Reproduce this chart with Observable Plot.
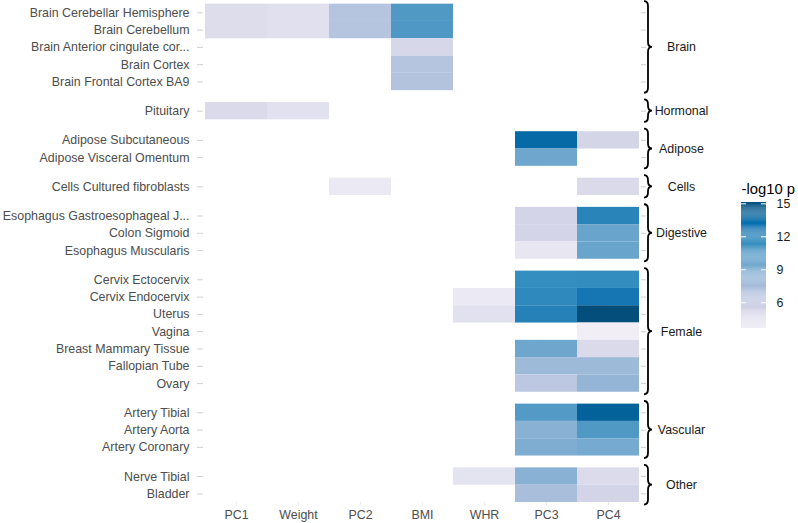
<!DOCTYPE html>
<html>
<head>
<meta charset="utf-8">
<script src="https://cdn.jsdelivr.net/npm/d3@7"></script>
<script src="https://cdn.jsdelivr.net/npm/@observablehq/plot@0.6"></script>
<style>
  html, body { margin: 0; padding: 0; background: #fff; }
  #chart { position: relative; width: 798px; height: 523px; overflow: hidden; }
  #legend { position: absolute; left: 700px; top: 170px; }
  svg { font-family: "Liberation Sans", Arial, sans-serif; }
</style>
</head>
<body>
<div id="chart"><div id="main"></div><div id="legend"></div></div>
<script>
// ---- data ----
const traits = ["PC1", "Weight", "PC2", "BMI", "WHR", "PC3", "PC4"];
const groups = ["Brain", "Hormonal", "Adipose", "Cells", "Digestive", "Female", "Vascular", "Other"];
const groupSizes = [5, 1, 2, 1, 3, 7, 3, 2];
const tissues = [
  "Brain Cerebellar Hemisphere", "Brain Cerebellum", "Brain Anterior cingulate cor...", "Brain Cortex", "Brain Frontal Cortex BA9",
  "Pituitary",
  "Adipose Subcutaneous", "Adipose Visceral Omentum",
  "Cells Cultured fibroblasts",
  "Esophagus Gastroesophageal J...", "Colon Sigmoid", "Esophagus Muscularis",
  "Cervix Ectocervix", "Cervix Endocervix", "Uterus", "Vagina", "Breast Mammary Tissue", "Fallopian Tube", "Ovary",
  "Artery Tibial", "Artery Aorta", "Artery Coronary",
  "Nerve Tibial", "Bladder"
];
const N = null;
// -log10 p for each trait, in tissue order (null = no tile)
const pc1    = [4.8, 4.8, N, N, N,  5.0,  N, N,  N,  N, N, N,  N, N, N, N, N, N, N,  N, N, N,  N, N];
const weight = [4.6, 4.6, N, N, N,  4.5,  N, N,  N,  N, N, N,  N, N, N, N, N, N, N,  N, N, N,  N, N];
const pc2    = [6.75, 6.8, N, N, N, N,    N, N,  4.0, N, N, N, N, N, N, N, N, N, N,  N, N, N,  N, N];
const bmi    = [10.6, 10.65, 5.2, 6.8, 6.9, N, N, N, N, N, N, N, N, N, N, N, N, N, N, N, N, N, N, N];
const whr    = [N, N, N, N, N,  N,  N, N,  N,  N, N, N,  N, 4.0, 4.5, N, N, N, N,  N, N, N,  4.4, N];
const pc3    = [N, N, N, N, N,  N,  13.55, 9.6,  N,  5.4, 5.4, 4.2,  11.4, 11.7, 12.2, N, 9.6, 7.8, 6.5,  10.5, 8.6, 9.0,  8.6, 7.4];
const pc4    = [N, N, N, N, N,  N,  5.3, N,  5.0,  12.0, 9.8, 9.8,  11.5, 12.85, 15.12, 3.66, 5.0, 7.8, 8.2,  14.0, 10.6, 9.3,  4.9, 5.4];
const pubu = ["#F1EEF6", "#D0D1E6", "#A6BDDB", "#74A9CF", "#3690C0", "#0570B0", "#034E7B"];
const legendTicks = [6, 9, 12, 15];

// ---- derived tables ----
const series = [pc1, weight, pc2, bmi, whr, pc3, pc4];
const GAP = 0.686; // spacing between facet groups, in row units
const tissueGroup = groupSizes.flatMap((n, g) => Array(n).fill(g));
const pos = tissues.map((t, i) => i + tissueGroup[i] * GAP);
const nameByPos = new Map(pos.map((p, i) => [p, tissues[i]]));
const cells = [];
series.forEach((arr, j) => arr.forEach((v, i) => {
  if (v != null) cells.push({trait: traits[j], tissue: tissues[i], pos: pos[i], value: v});
}));
const groupData = groups.map((g, k) => {
  const idx = tissues.map((t, i) => i).filter(i => tissueGroup[i] === k);
  const first = pos[idx[0]], last = pos[idx[idx.length - 1]];
  return {name: g, first, last, mid: (first + last) / 2};
});
const [lo, hi] = d3.extent(cells, d => d.value);
const colorOpts = {type: "linear", domain: [lo, hi], interpolate: d3.piecewise(d3.interpolateLab, pubu)};
const lastPos = pos[pos.length - 1];

// brace render mark
function braces(index, scales, values, dimensions) {
  const g = d3.create("svg:g")
    .attr("fill", "none").attr("stroke", "#000").attr("stroke-width", 1.8);
  const xe = dimensions.width - dimensions.marginRight + 4;
  const xv = xe + 4, xt = xe + 8, r = 5;
  for (const d of groupData) {
    const y0 = scales.y(d.first - 0.65), y1 = scales.y(d.last + 0.65), ym = scales.y(d.mid);
    const p = d3.path();
    p.moveTo(xe, y0);
    p.quadraticCurveTo(xv, y0, xv, y0 + r);
    p.lineTo(xv, ym - r);
    p.quadraticCurveTo(xv, ym, xt, ym);
    p.quadraticCurveTo(xv, ym, xv, ym + r);
    p.lineTo(xv, y1 - r);
    p.quadraticCurveTo(xv, y1, xe, y1);
    g.append("path").attr("d", p.toString());
  }
  return g.node();
}

const main = Plot.plot({
  width: 798,
  height: 523,
  marginLeft: 203,
  marginRight: 158,
  marginTop: 3.65,
  marginBottom: 21,
  style: {fontFamily: "Liberation Sans, Arial, sans-serif", fontSize: "12.4px", background: "white"},
  x: {type: "band", domain: traits, padding: 0, axis: null, label: null},
  y: {type: "linear", domain: [-0.5, lastPos + 0.5], reverse: true, axis: null, label: null},
  color: colorOpts,
  marks: [
    Plot.barY(cells, {x: "trait", y1: d => d.pos - 0.5, y2: d => d.pos + 0.5, fill: "value", inset: 0}),
    Plot.axisY(pos, {anchor: "left", tickSize: 6, tickFormat: () => "", stroke: "#cfcfcf"}),
    Plot.axisY(pos, {anchor: "left", tickSize: 0, tickPadding: 14, tickFormat: p => nameByPos.get(p), fill: "#4d4d4d"}),
    Plot.axisY(pos, {anchor: "right", tickSize: 5, tickFormat: () => "", stroke: "#cfcfcf"}),
    Plot.axisX({tickSize: 4, tickFormat: () => "", stroke: "#ececec"}),
    Plot.axisX({tickSize: 0, tickPadding: 8, fill: "#4d4d4d"}),
    braces,
    Plot.text(groupData, {y: "mid", text: "name", frameAnchor: "right", dx: 41, textAnchor: "middle", fill: "#1a1a1a"})
  ]
});
document.getElementById("main").appendChild(main);

// ---- colorbar legend ----
const steps = d3.range(120).map(i => {
  const a = lo + (hi - lo) * i / 120, b = lo + (hi - lo) * (i + 1) / 120;
  return {a, b, v: (a + b) / 2};
});
const legend = Plot.plot({
  width: 98,
  height: 165,
  marginLeft: 41,
  marginRight: 32,
  marginTop: 32,
  marginBottom: 7,
  style: {fontFamily: "Liberation Sans, Arial, sans-serif", fontSize: "12.4px", background: "transparent"},
  x: {domain: [0, 1], axis: null},
  y: {domain: [lo, hi], axis: null},
  color: colorOpts,
  marks: [
    Plot.rect(steps, {x1: 0, x2: 1, y1: "a", y2: "b", fill: "v"}),
    Plot.ruleY(legendTicks, {x1: 0, x2: 0.2, stroke: "white", strokeWidth: 1}),
    Plot.ruleY(legendTicks, {x1: 0.8, x2: 1, stroke: "white", strokeWidth: 1}),
    Plot.axisY(legendTicks, {anchor: "right", tickSize: 0, tickPadding: 10, fill: "#1a1a1a"}),
    Plot.text(["-log10 p"], {frameAnchor: "top-left", textAnchor: "start", lineAnchor: "bottom", dy: -9, fontSize: 14.8, fill: "#000"})
  ]
});
document.getElementById("legend").appendChild(legend);
</script>
</body>
</html>
